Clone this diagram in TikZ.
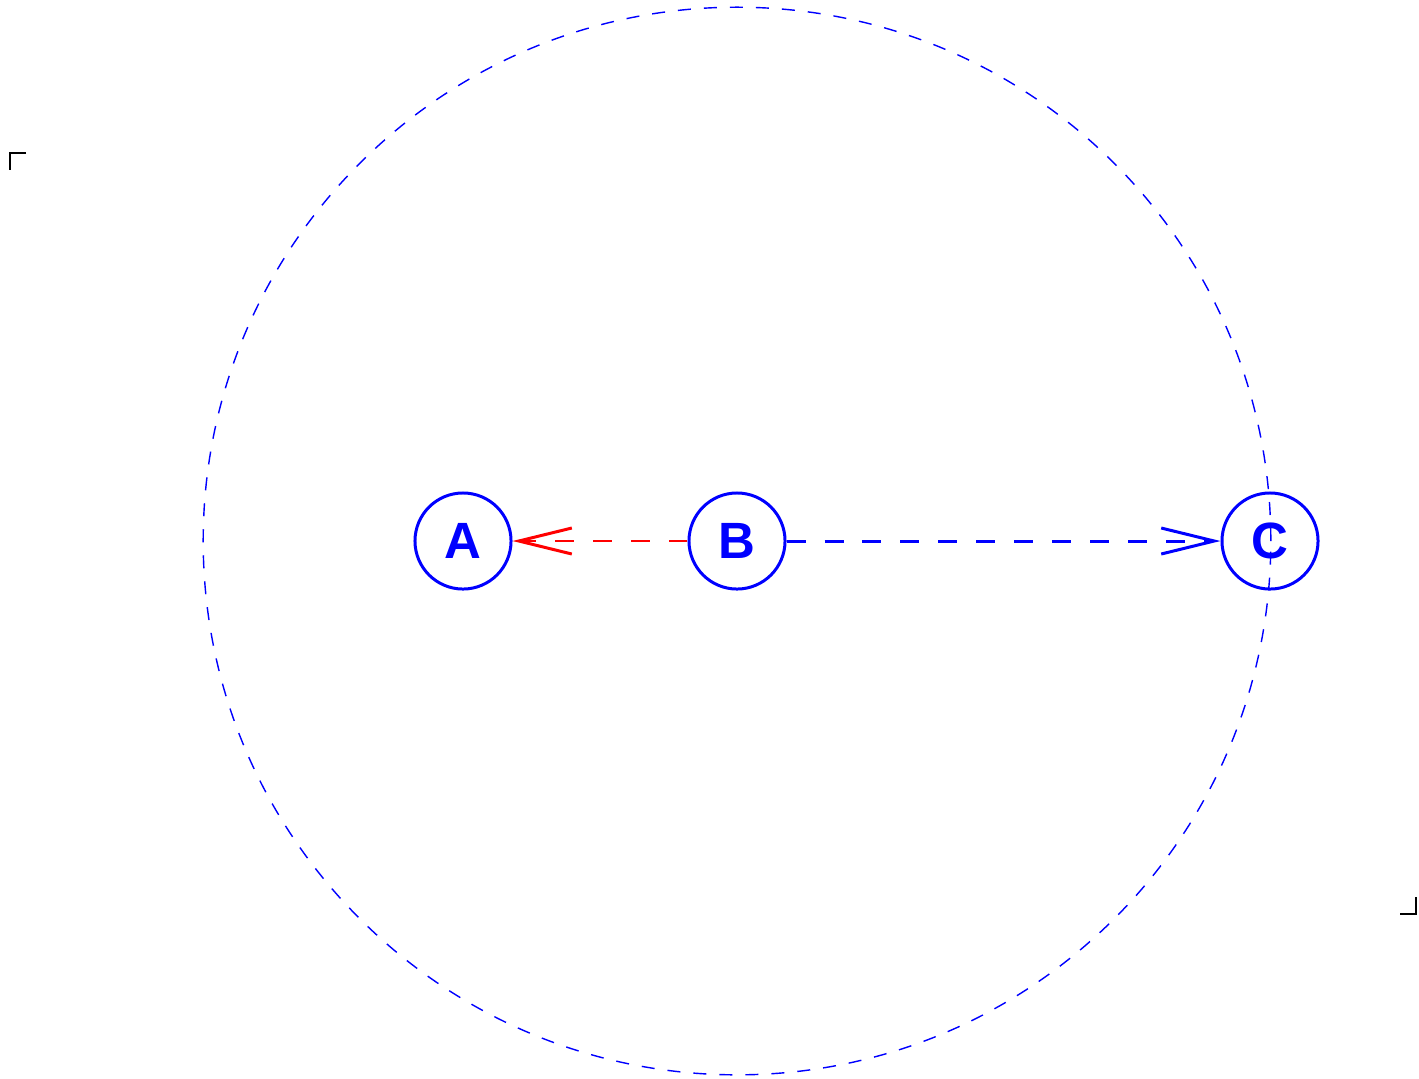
\documentclass[tikz,border=0pt]{standalone}
\usepackage{fontspec}
\setmainfont{Liberation Sans}
\usetikzlibrary{arrows.meta}

\tikzset{
  state/.style={draw=blue, circle, line width=0.85pt, inner sep=0pt, minimum size=0.96cm,
    text=blue, font=\fontsize{14.5}{16}\selectfont\bfseries},
  ring/.style={draw=blue, line width=0.4pt, dash pattern=on 3.7pt off 3.7pt},
  vtip/.style={-{Straight Barb[length=5.3mm, width=2.6mm, line width=0.85pt]}},
  cropmark/.style={draw=black, line width=0.6pt}
}

\begin{document}
\begin{tikzpicture}[x=0.01cm, y=-0.01cm]
        \useasboundingbox (0,0) rectangle (1419,1078);

        \draw[ring] (737,541) circle[radius=5.335cm];

        \node[state] (a) at (463,541) {A};
        \node[state] (b) at (737,541) {B};
        \node[state] (c) at (1270,541) {C};

        \draw[vtip, red, line width=0.43pt, dash pattern=on 5.4pt off 5.4pt] (b) -- (a);
        \draw[vtip, blue, line width=0.85pt, dash pattern=on 5.4pt off 5.4pt] (b) -- (c);

        % crop marks
        \draw[cropmark] (26,153) -- (10,153) -- (10,170);
        \draw[cropmark] (1416,897) -- (1416,914) -- (1400,914);
    \end{tikzpicture}
\end{document}
